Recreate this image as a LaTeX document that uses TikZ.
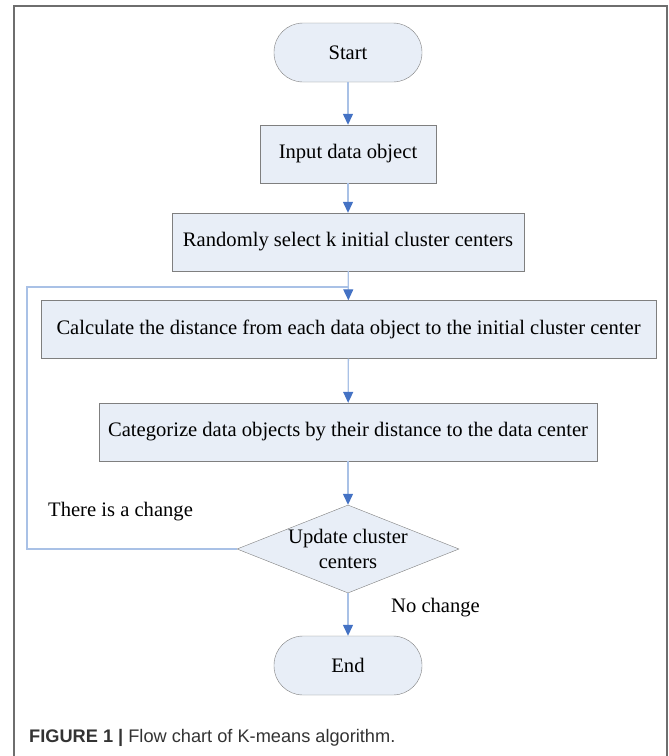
\documentclass[tikz,border=0pt]{standalone}
\usepackage{fontspec}
\setmainfont{Liberation Serif}
\newfontfamily\capfont{Liberation Sans}
\usetikzlibrary{shapes.geometric,arrows.meta}
\definecolor{boxfill}{HTML}{E8EEF7}
\definecolor{boxline}{HTML}{7F7F7F}
\definecolor{flowline}{HTML}{A9C1E6}
\definecolor{tipblue}{HTML}{4472C4}
\definecolor{framegray}{HTML}{6E6E6E}
\definecolor{capgray}{HTML}{333333}
\tikzstyle{term}=[rectangle, rounded corners=29pt, draw=boxline, fill=boxfill, minimum width=148pt, minimum height=59pt, inner sep=0pt]
\tikzstyle{proc}=[rectangle, draw=boxline, fill=boxfill, minimum height=58pt, inner sep=0pt]
\tikzstyle{decision}=[diamond, draw=boxline, fill=boxfill, minimum width=222pt, minimum height=88pt, inner sep=0pt]
\tikzstyle{txt}=[inner sep=0pt, anchor=west]
\tikzstyle{flow}=[draw=flowline, line width=1.3pt, -{Triangle[length=11pt,width=10pt,color=tipblue]}]
\tikzstyle{loopline}=[draw=flowline, line width=1.3pt]
\tikzstyle{frame}=[draw=framegray, line width=1.5pt]
\begin{document}
\begin{tikzpicture}[x=1pt, y=-1pt, font=\fontsize{20.6}{25}\selectfont]
				\useasboundingbox (0,0) rectangle (669,756);
				%The frame
				\draw[frame] (14,756) -- (14,6) -- (667,6) -- (667,756);
				
				%The steps
				\draw (348,52.5) node[term] (start) {Start};
				\draw (348,154) node[proc, minimum width=176pt] (input) {Input data object};
				\draw (348,242) node[proc, minimum width=352pt] (random) {Randomly select k initial cluster centers};
				\draw (348.5,329.5) node[proc, minimum width=615pt] (calc) {Calculate the distance from each data object to the initial cluster center};
				\draw (348,432) node[proc, minimum width=498pt] (categ) {Categorize data objects by their distance to the data center};
				\draw (348,549) node[decision, label={[align=center, inner sep=0pt]center:Update cluster\\centers}] (update) {};
				\draw (348,665.5) node[term] (end) {End};
				
				%The arrows
				\draw[flow] (start) -- (input);
				\draw[flow] (input) -- (random);
				\draw[flow] (random) -- (calc);
				\draw[flow] (calc) -- (categ);
				\draw[flow] (categ) -- (update);
				\draw[flow] (update) -- (end);
				
				%The loop back
				\coordinate (back) at (27,287);
				\coordinate (join) at (348,287);
				\draw[loopline] (update.west) -| (back) -- (join);
				\draw (48,512) node[txt] (changed) {There is a change};
				\draw (391,608) node[txt] (unchanged) {No change};
				
				%The caption
				\draw (29,738) node[txt, font=\capfont\fontsize{18.2}{20}\selectfont, text=capgray] (caption) {\textbf{FIGURE 1 |} Flow chart of K-means algorithm.};
			\end{tikzpicture}
\end{document}
